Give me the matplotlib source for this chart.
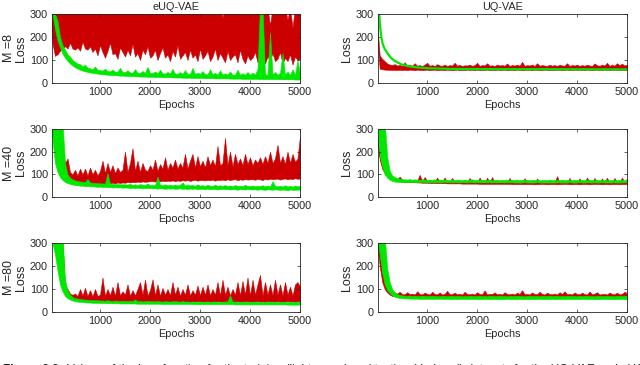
import numpy as np
import matplotlib
matplotlib.use("Agg")
import matplotlib.pyplot as plt

plt.rcParams['font.family'] = ['Liberation Sans', 'DejaVu Sans']

RED = '#cc0000'
GREEN = '#00e800'
INK = '#262626'

EPOCHS = np.arange(0, 5001, 50)   # sampling grid of the loss curves (101 epochs)

# ---------------- eUQ-VAE, M = 8 ----------------
L8_RED_LO = [330, 170, 118, 125, 140, 150, 160, 150, 175, 150, 145,
             155, 140, 180, 150, 145, 160, 135, 150, 120, 165,
             135, 110, 140, 175, 125, 130, 105, 155, 135, 115,
             145, 120, 170, 115, 130, 100, 145, 125, 160, 110,
             120, 145, 100, 130, 155, 110, 125, 95, 140, 115,
             165, 105, 120, 135, 100, 145, 110, 125, 95, 150,
             105, 120, 140, 95, 115, 150, 100, 130, 110, 90,
             140, 100, 115, 125, 90, 145, 105, 85, 120, 100,
             110, 135, 90, 105, 140, 85, 115, 100, 130, 95,
             105, 135, 85, 110, 95, 125, 80, 115, 100, 105]
L8_RED_HI = [330, 330, 330, 330, 330, 330, 330, 330, 330, 330, 330,
             330, 330, 330, 330, 330, 330, 330, 330, 330, 330,
             330, 330, 330, 330, 330, 330, 300, 330, 330, 330,
             330, 330, 330, 330, 330, 330, 330, 330, 330, 330,
             330, 330, 330, 330, 330, 290, 330, 330, 330, 330,
             330, 330, 330, 330, 330, 330, 330, 330, 330, 330,
             330, 330, 330, 330, 330, 330, 330, 330, 285, 330,
             330, 330, 330, 330, 330, 330, 330, 330, 330, 330,
             330, 330, 330, 330, 330, 330, 330, 250, 330, 330,
             330, 330, 330, 330, 275, 330, 240, 330, 330, 330]
L8_GRN_LO = [330, 300, 235, 185, 155, 128, 110, 96, 85, 76, 68,
             63, 58, 54, 51, 48, 46, 44, 42, 41, 39,
             38, 37, 36, 35, 34, 34, 33, 32, 32, 31,
             31, 30, 30, 29, 29, 28, 28, 28, 27, 27,
             27, 26, 26, 26, 25, 25, 25, 25, 24, 24,
             24, 24, 23, 23, 23, 23, 22, 22, 22, 22,
             22, 21, 21, 21, 21, 20, 20, 20, 20, 20,
             20, 19, 19, 19, 19, 19, 18, 18, 18, 18,
             18, 18, 18, 17, 17, 17, 17, 17, 17, 17,
             17, 16, 16, 16, 16, 16, 16, 15, 15, 15]
L8_GRN_HI = [330, 330, 300, 270, 200, 165, 145, 125, 115, 100, 92,
             85, 82, 72, 80, 66, 64, 60, 72, 58, 56,
             54, 62, 52, 51, 58, 50, 49, 66, 48, 47,
             55, 46, 45, 60, 45, 44, 52, 44, 70, 43,
             43, 50, 42, 58, 42, 41, 48, 41, 62, 41,
             40, 47, 40, 56, 40, 39, 66, 39, 45, 39,
             52, 38, 38, 60, 38, 44, 37, 55, 37, 42,
             37, 50, 36, 36, 58, 36, 42, 36, 48, 36,
             45, 36, 60, 330, 330, 40, 35, 220, 38, 48,
             36, 44, 130, 36, 50, 35, 60, 35, 100, 40]

# ---------------- eUQ-VAE, M = 40 ----------------
L40_RED_LO = [330, 300, 220, 160, 120, 95, 80, 72, 68, 65, 63,
              62, 60, 61, 58, 60, 57, 59, 58, 56, 58,
              60, 58, 62, 61, 63, 60, 64, 62, 64, 63,
              66, 64, 67, 65, 68, 66, 69, 67, 68, 70,
              70, 68, 71, 69, 72, 70, 72, 71, 73, 70,
              73, 71, 74, 72, 75, 71, 74, 76, 72, 75,
              75, 73, 76, 74, 77, 72, 76, 75, 77, 74,
              78, 75, 77, 79, 74, 78, 76, 79, 77, 78,
              79, 76, 80, 78, 75, 80, 77, 81, 78, 80,
              81, 77, 80, 82, 78, 81, 79, 83, 80, 82]
L40_RED_HI = [330, 330, 330, 300, 250, 200, 150, 170, 110, 100, 120,
              95, 125, 100, 125, 95, 130, 100, 120, 95, 115,
              160, 105, 150, 110, 140, 105, 130, 110, 120, 200,
              110, 150, 215, 115, 160, 110, 150, 120, 115, 140,
              120, 165, 115, 145, 125, 175, 120, 150, 130, 165,
              125, 150, 130, 190, 125, 160, 190, 130, 180, 135,
              160, 130, 180, 140, 165, 135, 225, 140, 150, 260,
              140, 200, 135, 190, 145, 170, 140, 190, 145, 175,
              140, 165, 150, 175, 145, 180, 150, 200, 150, 170,
              230, 150, 180, 145, 200, 150, 190, 155, 170, 270]
L40_GRN_LO = [330, 250, 150, 110, 88, 75, 66, 61, 58, 55, 53,
              52, 50, 50, 48, 49, 47, 47, 46, 45, 46,
              44, 45, 43, 44, 42, 43, 42, 43, 41, 42,
              41, 40, 41, 39, 41, 40, 38, 40, 39, 40,
              38, 39, 37, 39, 38, 36, 38, 37, 38, 36,
              37, 38, 36, 37, 35, 37, 36, 37, 35, 36,
              36, 35, 36, 34, 36, 35, 33, 35, 36, 34,
              35, 33, 35, 34, 32, 35, 34, 33, 35, 34,
              33, 34, 32, 34, 33, 31, 34, 33, 32, 34,
              33, 31, 33, 32, 30, 33, 32, 31, 33, 32]
L40_GRN_HI = [330, 330, 330, 330, 330, 330, 150, 100, 85, 78, 73,
              70, 69, 67, 66, 80, 64, 63, 62, 61, 60,
              60, 59, 105, 58, 58, 57, 57, 56, 56, 56,
              55, 58, 53, 56, 52, 57, 54, 53, 60, 52,
              53, 52, 90, 55, 51, 56, 52, 54, 51, 55,
              51, 54, 65, 50, 55, 51, 53, 50, 56, 50,
              52, 49, 54, 50, 49, 55, 49, 52, 48, 53,
              48, 51, 47, 53, 48, 50, 47, 54, 49, 48,
              51, 47, 50, 48, 52, 47, 50, 47, 70, 49,
              47, 50, 46, 52, 47, 49, 46, 51, 47, 49]

# ---------------- eUQ-VAE, M = 80 ----------------
L80_RED_LO = [330, 330, 300, 250, 170, 120, 80, 65, 58, 54, 52,
              50, 49, 48, 48, 47, 47, 47, 46, 46, 46,
              46, 45, 47, 45, 46, 44, 46, 45, 47, 45,
              46, 44, 46, 45, 47, 45, 44, 46, 45, 47,
              45, 46, 44, 47, 45, 46, 44, 46, 45, 47,
              46, 44, 47, 45, 46, 44, 46, 45, 47, 45,
              46, 45, 47, 44, 46, 45, 47, 45, 46, 44,
              47, 45, 46, 44, 47, 45, 46, 45, 47, 44,
              46, 45, 47, 45, 46, 44, 47, 45, 46, 45,
              47, 44, 46, 45, 47, 45, 46, 44, 47, 45]
L80_RED_HI = [330, 330, 330, 330, 330, 300, 110, 100, 80, 75, 80,
              70, 100, 72, 105, 70, 95, 68, 100, 70, 75,
              150, 70, 100, 72, 110, 70, 130, 72, 90, 75,
              120, 70, 95, 72, 100, 130, 75, 140, 72, 95,
              142, 72, 120, 70, 105, 75, 100, 72, 130, 75,
              110, 70, 100, 75, 120, 72, 95, 75, 115, 72,
              110, 75, 120, 72, 100, 75, 130, 72, 140, 75,
              110, 72, 100, 75, 130, 72, 135, 75, 150, 72,
              140, 75, 120, 161, 72, 130, 75, 120, 72, 140,
              75, 120, 72, 130, 75, 110, 72, 120, 130, 110]
L80_GRN_LO = [330, 300, 250, 180, 120, 90, 70, 60, 54, 50, 47,
              45, 44, 43, 42, 41, 41, 40, 40, 40, 39,
              39, 39, 38, 38, 38, 38, 38, 37, 37, 37,
              37, 37, 37, 37, 36, 36, 36, 36, 36, 36,
              36, 36, 36, 36, 35, 35, 35, 35, 35, 35,
              35, 35, 35, 35, 35, 35, 35, 34, 34, 34,
              34, 34, 34, 34, 34, 34, 34, 34, 34, 34,
              34, 34, 34, 33, 33, 33, 33, 33, 33, 33,
              33, 33, 33, 33, 33, 33, 33, 33, 33, 33,
              33, 33, 33, 33, 32, 32, 32, 32, 32, 32]
L80_GRN_HI = [330, 330, 330, 330, 330, 330, 140, 95, 75, 65, 60,
              58, 56, 55, 54, 53, 52, 52, 51, 51, 50,
              50, 49, 51, 49, 48, 50, 48, 49, 47, 48,
              47, 49, 47, 55, 46, 48, 46, 47, 48, 46,
              47, 46, 48, 46, 45, 47, 46, 45, 47, 46,
              46, 45, 47, 45, 46, 44, 46, 45, 44, 46,
              45, 44, 46, 44, 45, 46, 44, 45, 44, 46,
              45, 73, 44, 46, 44, 45, 44, 46, 44, 45,
              44, 46, 44, 45, 43, 45, 44, 46, 43, 45,
              44, 43, 45, 44, 43, 45, 43, 44, 45, 43]

# ---------------- UQ-VAE, M = 8 ----------------
R8_RED_LO = [200, 62, 60, 58, 58, 57, 57, 57, 57, 57, 57,
             57, 56, 58, 57, 56, 58, 57, 56, 57, 58,
             56, 57, 58, 56, 57, 57, 56, 58, 57, 56,
             57, 58, 56, 57, 56, 58, 57, 57, 56, 58,
             56, 57, 57, 58, 56, 57, 56, 58, 57, 57,
             58, 56, 57, 57, 56, 58, 57, 56, 57, 58,
             57, 56, 58, 57, 57, 56, 58, 57, 56, 57,
             56, 58, 57, 56, 57, 58, 56, 57, 58, 57,
             57, 57, 56, 58, 57, 56, 57, 58, 56, 57,
             58, 57, 56, 57, 58, 57, 56, 57, 57, 56]
R8_RED_HI = [260, 120, 105, 95, 85, 80, 78, 82, 76, 78, 75,
             90, 76, 80, 74, 86, 75, 78, 74, 80, 88,
             75, 78, 74, 82, 76, 75, 80, 74, 78, 76,
             88, 75, 79, 74, 77, 76, 80, 74, 78, 88,
             74, 78, 76, 86, 75, 77, 74, 80, 76, 78,
             75, 85, 74, 78, 76, 80, 75, 92, 74, 78,
             76, 80, 74, 86, 75, 78, 76, 74, 80, 75,
             78, 74, 80, 76, 75, 86, 74, 78, 76, 80,
             74, 78, 75, 80, 76, 74, 85, 77, 75, 80,
             76, 88, 74, 80, 75, 86, 77, 84, 76, 80]
R8_GRN_EPOCHS = [16, 30, 44, 60, 83, 110, 150, 217, 280, 350, 483, 600, 750,
                 1017, 1550, 2500, 3500, 5000]
R8_GRN = [330, 310, 288, 240, 200, 170, 148, 126, 108, 96, 81, 74, 69,
          64, 61, 60, 60, 59]

# ---------------- UQ-VAE, M = 40 ----------------
R40_RED_LO = [260, 165, 125, 105, 94, 84, 78, 74, 71, 69, 68,
              67, 66, 66, 65, 65, 64, 64, 63, 63, 63,
              62, 62, 62, 61, 61, 61, 61, 60, 60, 60,
              60, 60, 60, 59, 59, 59, 59, 59, 59, 59,
              58, 58, 58, 58, 58, 58, 58, 58, 58, 58,
              58, 58, 58, 57, 57, 57, 57, 57, 57, 57,
              57, 57, 56, 57, 57, 58, 57, 56, 57, 57,
              57, 56, 57, 57, 58, 57, 57, 56, 57, 57,
              56, 57, 57, 57, 56, 57, 58, 57, 57, 56,
              57, 57, 56, 57, 57, 57, 56, 57, 57, 57]
R40_RED_HI = [280, 175, 134, 113, 101, 91, 85, 81, 78, 90, 75,
              74, 73, 72, 72, 71, 71, 98, 70, 88, 70,
              69, 69, 68, 85, 68, 68, 86, 67, 67, 84,
              67, 66, 66, 66, 65, 65, 84, 65, 65, 65,
              86, 64, 64, 85, 64, 88, 64, 64, 64, 64,
              64, 64, 84, 64, 63, 63, 63, 63, 83, 63,
              63, 63, 63, 82, 63, 63, 63, 63, 63, 63,
              63, 92, 63, 63, 63, 63, 84, 63, 63, 63,
              82, 63, 63, 86, 63, 63, 84, 63, 63, 82,
              63, 85, 63, 63, 84, 63, 63, 86, 63, 82]
R40_GRN_LO = [330, 180, 135, 100, 85, 76, 71, 68, 67, 66, 66,
              66, 65, 66, 65, 66, 65, 65, 66, 65, 65,
              65, 66, 65, 65, 64, 65, 66, 65, 65, 64,
              65, 65, 64, 65, 65, 64, 65, 65, 64, 65,
              64, 65, 65, 64, 65, 64, 65, 64, 65, 65,
              64, 65, 64, 65, 64, 65, 64, 64, 65, 64,
              65, 64, 64, 65, 64, 64, 65, 64, 64, 65,
              64, 64, 65, 64, 64, 64, 65, 64, 64, 64,
              65, 64, 64, 64, 65, 64, 64, 64, 64, 65,
              64, 64, 64, 65, 64, 64, 64, 64, 65, 64]
R40_GRN_HI = [330, 330, 330, 330, 178, 115, 95, 88, 84, 81, 79,
              78, 77, 79, 76, 78, 77, 76, 78, 77, 76,
              77, 76, 78, 75, 77, 76, 78, 75, 76, 77,
              75, 77, 76, 74, 77, 75, 76, 78, 75, 76,
              77, 75, 76, 74, 77, 76, 75, 77, 74, 76,
              75, 77, 74, 76, 75, 77, 74, 76, 75, 76,
              74, 76, 75, 77, 74, 75, 76, 74, 77, 75,
              76, 74, 75, 77, 74, 76, 75, 74, 76, 75,
              74, 76, 75, 74, 77, 75, 74, 76, 75, 74,
              76, 75, 74, 76, 75, 74, 76, 75, 74, 75]

# ---------------- UQ-VAE, M = 80 ----------------
R80_RED_LO = [300, 200, 130, 100, 85, 75, 70, 68, 66, 65, 64,
              63, 63, 63, 63, 63, 63, 62, 62, 62, 62,
              62, 62, 62, 62, 62, 62, 62, 62, 62, 62,
              62, 62, 62, 62, 62, 62, 62, 62, 62, 62,
              62, 62, 62, 62, 62, 62, 62, 62, 62, 62,
              62, 62, 62, 62, 62, 62, 62, 62, 62, 62,
              62, 62, 62, 62, 62, 62, 62, 62, 62, 62,
              62, 62, 62, 62, 62, 62, 62, 62, 62, 62,
              62, 62, 62, 62, 62, 62, 62, 62, 62, 62,
              62, 62, 62, 62, 62, 62, 62, 62, 62, 62]
R80_RED_HI = [330, 300, 200, 150, 125, 105, 90, 85, 80, 88, 78,
              77, 86, 78, 80, 76, 90, 78, 77, 84, 79,
              76, 88, 78, 77, 85, 76, 79, 92, 77, 78,
              84, 77, 79, 76, 88, 78, 77, 80, 76, 86,
              78, 77, 94, 76, 79, 78, 85, 77, 79, 76,
              86, 78, 77, 80, 76, 84, 78, 95, 77, 79,
              76, 85, 78, 77, 88, 79, 76, 84, 78, 77,
              80, 76, 86, 78, 90, 77, 79, 76, 85, 78,
              77, 84, 78, 76, 89, 77, 80, 86, 76, 78,
              79, 76, 85, 78, 77, 84, 76, 79, 88, 82]
R80_GRN_LO = [330, 250, 170, 120, 95, 82, 72, 67, 63, 61, 60,
              59, 59, 58, 58, 58, 58, 57, 57, 57, 57,
              57, 57, 57, 57, 57, 57, 57, 57, 57, 56,
              57, 56, 57, 56, 57, 56, 57, 56, 56, 57,
              56, 56, 57, 56, 56, 56, 57, 56, 56, 56,
              56, 57, 56, 56, 56, 56, 57, 56, 56, 56,
              56, 56, 56, 57, 56, 56, 56, 56, 56, 57,
              56, 56, 56, 56, 56, 57, 56, 56, 56, 56,
              56, 56, 57, 56, 56, 56, 56, 56, 56, 56,
              57, 56, 56, 56, 56, 56, 56, 57, 56, 56]
R80_GRN_HI = [330, 330, 330, 330, 190, 130, 100, 85, 78, 74, 72,
              71, 70, 72, 69, 71, 70, 69, 71, 70, 69,
              70, 71, 69, 70, 68, 71, 70, 69, 70, 71,
              69, 70, 71, 68, 70, 69, 71, 70, 69, 70,
              71, 69, 70, 68, 71, 70, 69, 70, 71, 69,
              70, 68, 71, 69, 70, 71, 69, 70, 68, 70,
              71, 69, 70, 70, 68, 71, 69, 70, 71, 69,
              70, 71, 68, 70, 69, 71, 70, 69, 70, 68,
              71, 69, 70, 71, 69, 70, 68, 71, 70, 69,
              70, 71, 69, 70, 68, 71, 70, 69, 71, 70]

COL_TITLES = ['eUQ-VAE', 'UQ-VAE']
ROW_LABELS = ['M =8', 'M =40', 'M =80']
X_TICKS = [1000, 2000, 3000, 4000, 5000]
Y_TICKS = [0, 100, 200, 300]
CAPTION_BOLD = 'Figure 3.3:'
CAPTION = ('Values of the loss function for the training (light green) and testing (dark red) '
           'datasets for the UQ-VAE and eUQ-VAE')

fig = plt.figure(figsize=(6.4, 3.65), dpi=100)

lefts = [52 / 640, 378 / 640]
widths = [248 / 640, 249 / 640]
tops = [14, 129, 243]
heights = [69, 68, 69]


def band(ax, lo, hi, color):
    ax.fill_between(EPOCHS, lo, hi, facecolor=color, edgecolor=color, lw=0.4)


def style(ax, col, row):
    ax.set_ylim(0, 300)
    ax.set_xlim(40 if col == 0 else 16, 5000)
    ax.set_xticks(X_TICKS)
    ax.set_yticks(Y_TICKS)
    ax.tick_params(direction='in', length=2.5, width=0.5, top=True, right=True,
                   labelsize=7.8, colors=INK, pad=3)
    for s in ax.spines.values():
        s.set_color(INK)
        s.set_linewidth(0.6)
    ax.set_xlabel('Epochs', fontsize=7.8, color=INK, labelpad=2)
    if col == 0:
        ax.set_ylabel(ROW_LABELS[row] + '\nLoss', fontsize=9, color=INK,
                      labelpad=2, linespacing=1.0)
    else:
        ax.set_ylabel('Loss', fontsize=9, color=INK, labelpad=2)
    if row == 0:
        ax.set_title(COL_TITLES[col], fontsize=7.8, color=INK, pad=3)


data = [
    [(L8_RED_LO, L8_RED_HI, L8_GRN_LO, L8_GRN_HI), (R8_RED_LO, R8_RED_HI, None, None)],
    [(L40_RED_LO, L40_RED_HI, L40_GRN_LO, L40_GRN_HI), (R40_RED_LO, R40_RED_HI, R40_GRN_LO, R40_GRN_HI)],
    [(L80_RED_LO, L80_RED_HI, L80_GRN_LO, L80_GRN_HI), (R80_RED_LO, R80_RED_HI, R80_GRN_LO, R80_GRN_HI)],
]

for row in range(3):
    for col in range(2):
        y0 = 1 - (tops[row] + heights[row]) / 365
        ax = fig.add_axes([lefts[col], y0, widths[col], heights[row] / 365])
        rlo, rhi, glo, ghi = data[row][col]
        band(ax, rlo, rhi, RED)
        if glo is not None:
            band(ax, glo, ghi, GREEN)
        else:
            ax.plot(R8_GRN_EPOCHS, R8_GRN, color=GREEN, lw=1.6)
        style(ax, col, row)

# caption of the source page, cut by the lower edge as in the original picture
t1 = fig.text(0.004, 1 - 364.5 / 365, CAPTION_BOLD, fontsize=8.5, fontweight='bold',
              va='top', ha='left', color='#222222')
fig.canvas.draw()
bb = t1.get_window_extent(renderer=fig.canvas.get_renderer())
fig.text(bb.x1 / fig.bbox.width + 0.008, 1 - 364.5 / 365, CAPTION, fontsize=8.5,
         va='top', ha='left', color='#222222')

fig.savefig('out.png', dpi=100)
